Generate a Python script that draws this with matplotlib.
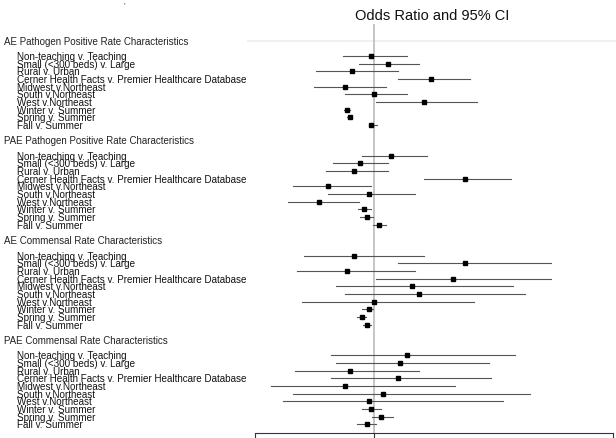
import matplotlib
matplotlib.use('Agg')
import matplotlib.pyplot as plt
from matplotlib.transforms import blended_transform_factory

# 数据：四组特征的比值比及95%置信区间
groups = ['AE Pathogen Positive Rate Characteristics',
          'PAE Pathogen Positive Rate Characteristics',
          'AE Commensal Rate Characteristics',
          'PAE Commensal Rate Characteristics']
items = ['Non-teaching v. Teaching', 'Small (<300 beds) v. Large', 'Rural v. Urban',
         'Cerner Health Facts v. Premier Healthcare Database', 'Midwest v.Northeast',
         'South v.Northeast', 'West v.Northeast', 'Winter v. Summer',
         'Spring v. Summer', 'Fall v. Summer']

ae_path_or = [0.975, 1.115, 0.813, 1.478, 0.752, 1.000, 1.419, 0.774, 0.794, 0.975]
ae_path_lo = [0.735, 0.874, 0.514, 1.199, 0.495, 0.754, 1.017, 0.745, 0.775, 0.955]
ae_path_hi = [1.277, 1.377, 1.199, 1.800, 1.096, 1.277, 1.861, 0.800, 0.810, 1.020]

pae_path_or = [1.137, 0.878, 0.832, 1.760, 0.614, 0.956, 0.534, 0.915, 0.935, 1.038]
pae_path_lo = [0.899, 0.656, 0.595, 1.419, 0.316, 0.614, 0.277, 0.860, 0.880, 0.985]
pae_path_hi = [1.439, 1.115, 1.115, 2.143, 0.975, 1.339, 0.874, 0.970, 0.990, 1.097]

ae_comm_or = [0.832, 1.760, 0.774, 1.660, 1.319, 1.377, 0.997, 0.956, 0.894, 0.936]
ae_comm_lo = [0.413, 1.199, 0.355, 1.017, 0.676, 0.754, 0.394, 0.900, 0.858, 0.908]
ae_comm_hi = [1.419, 2.484, 1.339, 2.484, 2.160, 2.263, 1.838, 0.990, 0.928, 0.970]

pae_comm_or = [1.277, 1.218, 0.794, 1.199, 0.752, 1.075, 0.956, 0.975, 1.056, 0.936]
pae_comm_lo = [0.637, 0.676, 0.335, 0.637, 0.134, 0.316, 0.235, 0.897, 0.978, 0.858]
pae_comm_hi = [2.182, 1.961, 1.377, 1.981, 1.679, 2.302, 2.081, 1.056, 1.154, 1.017]

series = [(ae_path_or, ae_path_lo, ae_path_hi),
          (pae_path_or, pae_path_lo, pae_path_hi),
          (ae_comm_or, ae_comm_lo, ae_comm_hi),
          (pae_comm_or, pae_comm_lo, pae_comm_hi)]

plt.rcParams['font.family'] = ['Liberation Sans', 'DejaVu Sans']

fig = plt.figure(figsize=(6.16, 4.39), dpi=100)
ax = fig.add_axes([255 / 616, 1 - 434.3 / 439, 358 / 616, (434.3 - 25) / 439])

# 参考线 OR = 1
ax.axvline(1, color='#b5b5b5', linewidth=1.1, zorder=1)
# 顶部浅色横线
ax.axhline(0, xmin=-7 / 358, xmax=1.01, color='#ececf2', linewidth=1.2,
           clip_on=False, zorder=0)

label_tr = blended_transform_factory(fig.transFigure, ax.transData)

for g, (name, (ors, los, his)) in enumerate(zip(groups, series)):
    base = 13 * g
    ax.text(4 / 616, base, name, transform=label_tr, ha='left', va='center',
            fontsize=7, color='#222222')
    for i, lab in enumerate(items):
        y = base + 2 + i
        ax.text(17 / 616, y, lab, transform=label_tr, ha='left', va='center',
                fontsize=7.1, color='#111111')
        ax.plot([los[i], his[i]], [y, y], color='#555555', linewidth=0.8, zorder=2)
        ax.plot(ors[i], y, marker='s', markersize=3.2, color='black', zorder=3)

ax.set_xlim(0, 3)
ax.set_ylim(51.17, -2.17)
ax.set_xticks([0, 1, 3])
ax.tick_params(axis='x', direction='out', length=5, width=0.8, colors='#333333',
               labelbottom=False)
ax.set_yticks([])
for s in ['top', 'left', 'right']:
    ax.spines[s].set_visible(False)
ax.spines['bottom'].set_color('#333333')
ax.spines['bottom'].set_linewidth(0.8)

fig.text(432 / 616, 1 - 16 / 439, 'Odds Ratio and 95% CI', ha='center', va='center',
         fontsize=10.5, color='#111111')
fig.text(124 / 616, 1 - 6 / 439, "'", ha='center', va='center', fontsize=6, color='#333333')

fig.savefig('out.png', dpi=100)
